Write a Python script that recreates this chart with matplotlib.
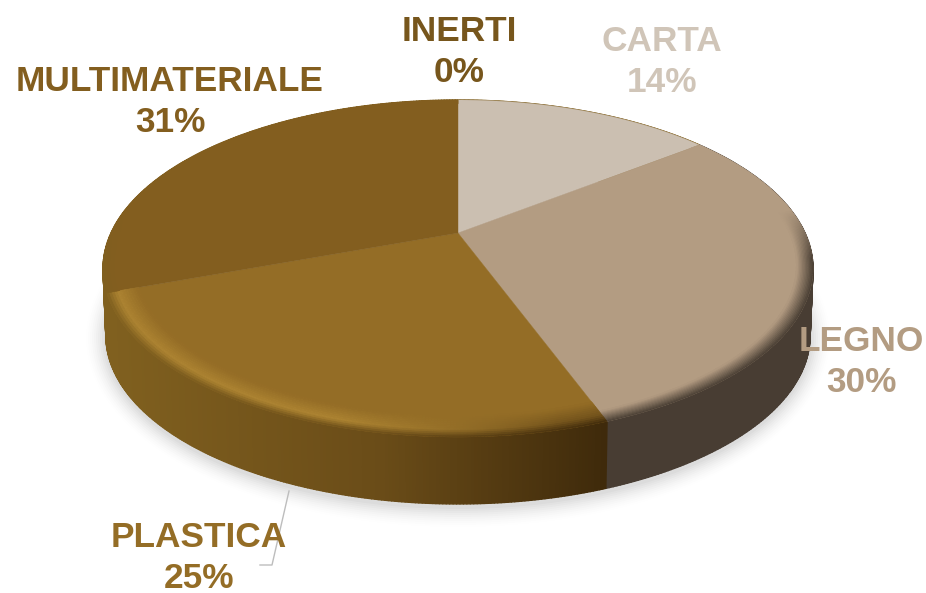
import numpy as np
import matplotlib
matplotlib.use("Agg")
import matplotlib.pyplot as plt
from matplotlib.collections import PolyCollection
from matplotlib.colors import to_rgb
from matplotlib.patches import Ellipse

# Data, clockwise from 12 o'clock
categories = ["CARTA", "LEGNO", "PLASTICA", "MULTIMATERIALE", "INERTI"]
shares = [14.4, 30.0, 25.0, 30.6, 0.0]

# Colours
face_colors = ["#cbbfb1", "#b39c82", "#946d26", "#835e1f", "#7a5a1e"]
label_colors = ["#d0c5b8", "#b39c82", "#946d26", "#835e1f", "#77561c"]
label_x = [662, 861, 199, 170, 459]
label_y = [62, 362, 558, 102, 52]

# Pie geometry in pixels (perspective view of a disc)
CX, CY = 458, 233
A, B, K = 347, 161, 0.2105
DEPTH = 67


def rim(theta, r=1.0):
    u, v = r * np.sin(theta), r * np.cos(theta)
    d = 1 + K * v
    return CX + A * u / d, CY - B * v / d


def mix(c1, c2, t):
    c1, c2 = np.array(to_rgb(c1)), np.array(to_rgb(c2))
    return c1 + (c2 - c1) * np.clip(t, 0, 1)


def side_color(i, x):
    if i == 1:
        return np.array(to_rgb("#483d33"))
    if i == 2:
        t = (x - 110) / 495
        if t < 0.55:
            return mix("#80601f", "#6a4c18", t / 0.55)
        return mix("#6a4c18", "#3f2a0b", (t - 0.55) / 0.45)
    return np.array(to_rgb("#80601f"))


def bevel_color(i, x, t):
    face = np.array(to_rgb(face_colors[i]))
    edge = side_color(i, x)
    if i == 2:
        light = np.clip((560 - x) / 220, 0, 1)
        peak = mix(mix(edge, face, 0.6), "#ad8432", light)
        if t < 0.35:
            return mix(edge, peak, t / 0.35)
        return mix(peak, face, (t - 0.35) / 0.65)
    return mix(edge, face, t)


fig = plt.figure(figsize=(9.26, 5.93), dpi=100)
ax = fig.add_axes([0, 0, 1, 1])
ax.set_xlim(0, 926)
ax.set_ylim(593, 0)
ax.axis("off")

# Soft shadow under the disc
for grow, alpha in zip(np.arange(20, 0, -2), np.linspace(0.004, 0.022, 10)):
    ax.add_patch(Ellipse((CX, 338), 704 + grow * 2, 338 + grow * 2,
                         fc="black", ec="none", alpha=alpha, zorder=1))

edges = np.radians(np.concatenate([[0], np.cumsum(shares)]) * 3.6)

# Side wall
for i in range(4):
    th = np.linspace(edges[i], edges[i + 1], 200)
    x, y = rim(th)
    x2 = CX + (x - CX) * 0.992
    y2 = y + DEPTH
    quads, cols = [], []
    for j in range(len(th) - 1):
        quads.append([(x[j], y[j]), (x[j + 1], y[j + 1]), (x2[j + 1], y2[j + 1]), (x2[j], y2[j])])
        cols.append(side_color(i, x[j]))
    ax.add_collection(PolyCollection(quads, facecolors=cols, edgecolors=cols, linewidths=1.0, zorder=2))

# Top face
bevel_width = [0.0, 0.045, 0.085, 0.035]
for i in range(4):
    th = np.linspace(edges[i], edges[i + 1], 200)
    x, y = rim(th)
    ax.fill(np.r_[CX, x], np.r_[CY, y], color=face_colors[i], lw=0.3, zorder=3)
    if bevel_width[i] == 0:
        continue
    # rounded edge drawn as thin rings of small quads
    radii = np.linspace(1, 1 - bevel_width[i], 13)
    quads, cols = [], []
    for r in range(len(radii) - 1):
        xa, ya = rim(th, radii[r])
        xb, yb = rim(th, radii[r + 1])
        for j in range(len(th) - 1):
            # the back of the rim has no visible bevel
            fade = np.clip((0.15 - np.cos(th[j])) / 0.3, 0, 1)
            t = (r + 0.5) / (len(radii) - 1)
            c = bevel_color(i, xa[j], 1 - (1 - t) * fade)
            quads.append([(xa[j], ya[j]), (xa[j + 1], ya[j + 1]), (xb[j + 1], yb[j + 1]), (xb[j], yb[j])])
            cols.append(c)
    ax.add_collection(PolyCollection(quads, facecolors=cols, edgecolors=cols, linewidths=0.4, zorder=4))

# Leader line for PLASTICA
ax.plot([289, 272, 260], [491, 565, 565], color="#bdbdbd", lw=1, zorder=5)

# Labels
for name, val, col, lx, ly in zip(categories, shares, label_colors, label_x, label_y):
    ax.text(lx, ly, f"{name}\n{val:.0f}%", color=col, fontsize=25.4, fontweight="bold",
            family="Liberation Sans", ha="center", va="center", linespacing=1.27, zorder=6)

fig.savefig("out.png", dpi=100)
